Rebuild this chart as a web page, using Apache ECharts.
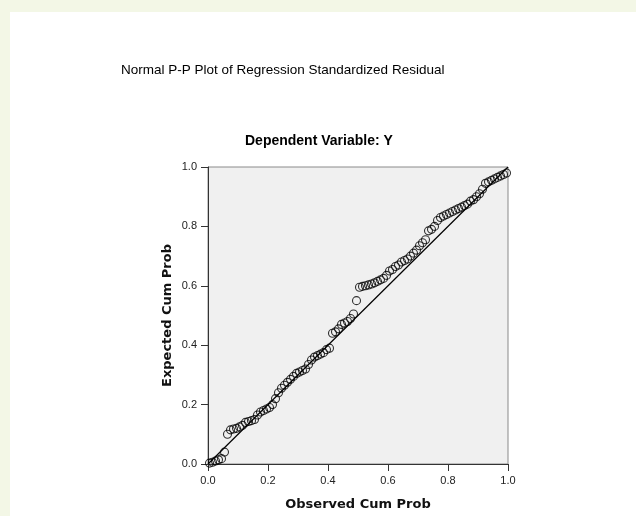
<!DOCTYPE html>
<html>
<head>
<meta charset="utf-8">
<script src="https://cdn.jsdelivr.net/npm/echarts@6/dist/echarts.min.js"></script>
<style>html,body{margin:0;padding:0;background:#fff;}#chart{width:636px;height:516px;}</style>
</head>
<body>
<div id="chart"></div>
<script>
// Observed cumulative probability (x) and expected cumulative probability (y)
const observedCumProb = [
  0.005,0.015,0.025,0.035,0.045,0.055,0.065,0.075,0.085,0.095,
  0.105,0.115,0.125,0.135,0.145,0.155,0.165,0.175,0.185,0.195,
  0.205,0.215,0.225,0.235,0.245,0.255,0.265,0.275,0.285,0.295,
  0.305,0.315,0.325,0.335,0.345,0.355,0.365,0.375,0.385,0.395,
  0.405,0.415,0.425,0.435,0.445,0.455,0.465,0.475,0.485,0.495,
  0.505,0.515,0.525,0.535,0.545,0.555,0.565,0.575,0.585,0.595,
  0.605,0.615,0.625,0.635,0.645,0.655,0.665,0.675,0.685,0.695,
  0.705,0.715,0.725,0.735,0.745,0.755,0.765,0.775,0.785,0.795,
  0.805,0.815,0.825,0.835,0.845,0.855,0.865,0.875,0.885,0.895,
  0.905,0.915,0.925,0.935,0.945,0.955,0.965,0.975,0.985,0.995
];
const expectedCumProb = [
  0.003,0.006,0.010,0.014,0.018,0.040,0.100,0.115,0.118,0.120,
  0.125,0.130,0.140,0.143,0.146,0.150,0.165,0.175,0.180,0.185,
  0.190,0.200,0.220,0.240,0.255,0.265,0.275,0.285,0.295,0.305,
  0.310,0.315,0.320,0.335,0.350,0.360,0.365,0.370,0.375,0.385,
  0.390,0.440,0.445,0.455,0.470,0.475,0.480,0.490,0.505,0.550,
  0.595,0.598,0.600,0.603,0.606,0.610,0.615,0.620,0.625,0.635,
  0.650,0.655,0.665,0.670,0.680,0.685,0.690,0.700,0.710,0.720,
  0.735,0.745,0.755,0.785,0.790,0.800,0.820,0.830,0.835,0.840,
  0.845,0.850,0.855,0.860,0.865,0.870,0.875,0.885,0.890,0.900,
  0.910,0.925,0.945,0.950,0.955,0.960,0.965,0.970,0.975,0.980
];
const referenceLine = [[0, 0], [1, 1]];
const tickValues = [0.0, 0.2, 0.4, 0.6, 0.8, 1.0];

const points = observedCumProb.map((x, i) => [x, expectedCumProb[i]]);

const chart = echarts.init(document.getElementById('chart'), null, {renderer: 'canvas'});
const labelFont = {fontFamily: 'Liberation Sans, Arial, sans-serif', fontSize: 11, color: '#222'};
const nameFont = {fontFamily: 'DejaVu Sans, sans-serif', fontSize: 13, fontWeight: 'bold', color: '#111'};

chart.setOption({
  backgroundColor: '#f3f7e6',
  animation: false,
  graphic: [
    {type: 'rect', shape: {x: 10, y: 12, width: 640, height: 520}, style: {fill: '#ffffff'}, z: -10, silent: true}
  ],
  title: [
    {text: 'Normal P-P Plot of Regression Standardized Residual', left: 116, top: 58,
     textStyle: {fontFamily: 'Liberation Sans, Arial, sans-serif', fontSize: 13.5, fontWeight: 'normal', color: '#000'}},
    {text: 'Dependent Variable: Y', left: 240, top: 129,
     textStyle: {fontFamily: 'Liberation Sans, Arial, sans-serif', fontSize: 14, fontWeight: 'bold', color: '#000'}}
  ],
  grid: {left: 208, top: 167, width: 300, height: 299, show: true, backgroundColor: '#f0f0f0', borderColor: '#8a8a8a', borderWidth: 1},
  xAxis: {
    type: 'value', min: 0, max: 1, interval: 0.2,
    name: 'Observed Cum Prob', nameLocation: 'middle', nameGap: 34, nameTextStyle: nameFont,
    axisLine: {show: true, lineStyle: {color: '#333', width: 1}},
    axisTick: {show: true, inside: false, length: 7, lineStyle: {color: '#333'}},
    axisLabel: Object.assign({margin: 11, formatter: v => v.toFixed(1)}, labelFont),
    splitLine: {show: false}
  },
  yAxis: {
    type: 'value', min: 0, max: 1, interval: 0.2,
    name: 'Expected Cum Prob', nameLocation: 'middle', nameGap: 34, nameTextStyle: nameFont,
    axisLine: {show: true, lineStyle: {color: '#333', width: 1}},
    axisTick: {show: true, inside: false, length: 7, lineStyle: {color: '#333'}},
    axisLabel: Object.assign({margin: 11, formatter: v => v.toFixed(1)}, labelFont),
    splitLine: {show: false}
  },
  series: [
    {type: 'line', data: referenceLine, symbol: 'none', lineStyle: {color: '#000', width: 1.2}, z: 2, silent: true},
    {type: 'scatter', data: points, symbol: 'circle', symbolSize: 8,
     itemStyle: {color: 'rgba(0,0,0,0)', borderColor: '#000', borderWidth: 1.1}, z: 3}
  ]
});
</script>
</body>
</html>
